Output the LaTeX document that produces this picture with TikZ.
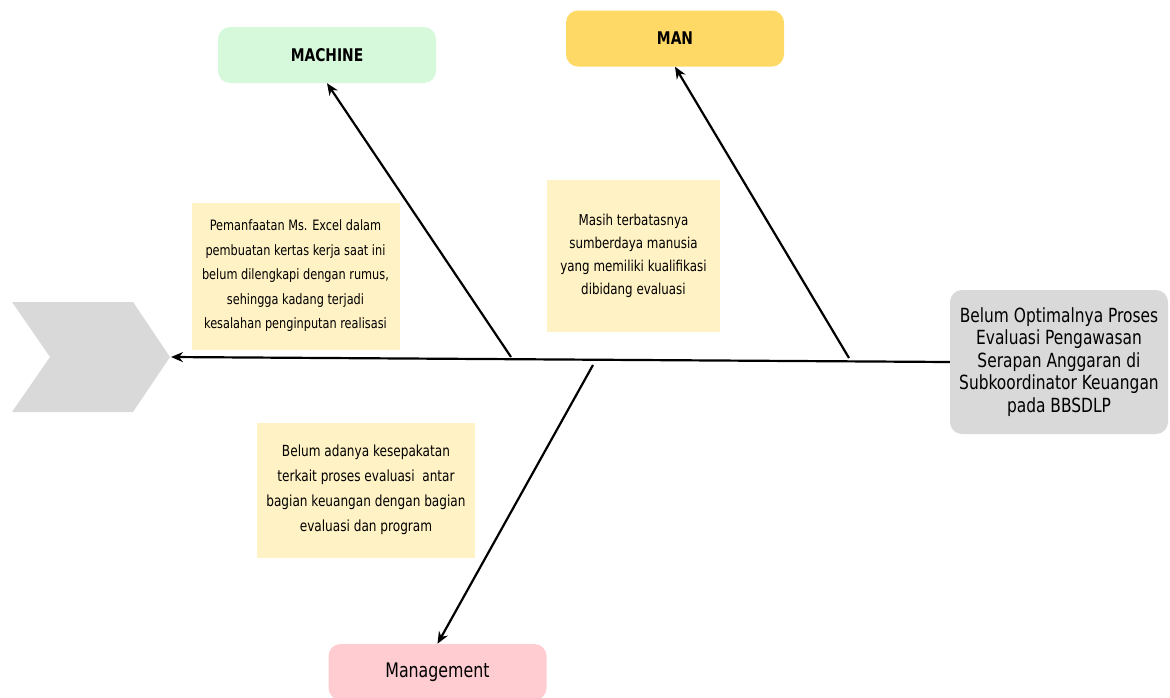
\documentclass[tikz,border=0pt]{standalone}
\usepackage{fontspec}
\setmainfont{DejaVu Sans Condensed}[FakeStretch=0.88]
\usepackage{tikz}
\usetikzlibrary{shapes,arrows.meta}

\definecolor{chevgray}{HTML}{D9D9D9}
\definecolor{notecol}{HTML}{FFF2C4}
\definecolor{machcol}{HTML}{D5F9DA}
\definecolor{mancol}{HTML}{FFD966}
\definecolor{mgmtcol}{HTML}{FFCCD1}

\begin{document}
\begin{tikzpicture}[x=1pt,y=-1pt,
  note/.style={fill=notecol,align=center,inner sep=0pt,font=\fontsize{14.3}{24.5}\selectfont},
  cat/.style={rounded corners=12pt,minimum width=218pt,minimum height=56pt,inner sep=0pt},
  bone/.style={line width=2.2pt,-{Stealth[length=12pt,width=10pt]}}]
\useasboundingbox (0,0) rectangle (1170,697);
% head arrow shape
\fill[chevgray] (12,302) -- (133,302) -- (170,357) -- (133,412) -- (12,412) -- (50,357) -- cycle;
\coordinate (tip) at (171,357);
%
\node[fill=chevgray,rounded corners=12pt,minimum width=218pt,minimum height=144pt,
  align=center,inner sep=0pt,font=\fontsize{19.5}{22.5}\selectfont] (effect) at (1059,362)
  {Belum Optimalnya Proses\\Evaluasi Pengawasan\\Serapan Anggaran di\\Subkoordinator Keuangan\\pada BBSDLP};
\draw[bone] (effect.west) -- (tip);
%
\node[cat,fill=machcol,font=\bfseries\fontsize{17.5}{20}\selectfont] (machine) at (327,55) {MACHINE};
\node[cat,fill=mancol,font=\bfseries\fontsize{17.5}{20}\selectfont] (man) at (675,38.5) {MAN};
\node[cat,fill=mgmtcol,font=\fontsize{20}{22}\selectfont] (mgmt) at (437.5,672) {Management};
%
\node[note,minimum width=208pt,minimum height=147pt] (excel) at (295.5,276)
  {Pemanfaatan Ms. Excel dalam\\pembuatan kertas kerja saat ini\\belum dilengkapi dengan rumus,\\sehingga kadang terjadi\\kesalahan penginputan realisasi};
\node[note,minimum width=173pt,minimum height=152pt,font=\fontsize{15}{23}\selectfont] (sdm) at (633.5,256)
  {Masih terbatasnya\\sumberdaya manusia\\yang memiliki kualifikasi\\dibidang evaluasi};
\node[note,minimum width=218pt,minimum height=135pt,font=\fontsize{15.3}{25}\selectfont] (sepakat) at (366,490)
  {Belum adanya kesepakatan\\terkait proses evaluasi~ antar\\bagian keuangan dengan bagian\\evaluasi dan program};
%
\coordinate (b1) at (511,357);
\coordinate (b2) at (849,358);
\coordinate (b3) at (593,365);
\draw[bone] (b1) -- (machine.south);
\draw[bone] (b2) -- (man.south);
\draw[bone] (b3) -- (mgmt.north);
\end{tikzpicture}
\end{document}
